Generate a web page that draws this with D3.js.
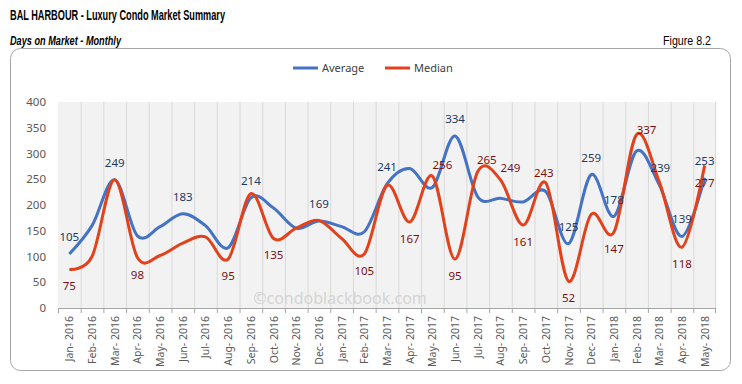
<!DOCTYPE html>
<html>
<head>
<meta charset="utf-8">
<script src="https://cdn.jsdelivr.net/npm/d3@7"></script>
<style>
  html, body { margin: 0; padding: 0; background: #fff; }
  svg { display: block; }
</style>
</head>
<body>
<svg id="chart" width="742" height="384"></svg>
<script>
(function () {
    const W = 742, H = 384;

    const months = [
        "Jan- 2016","Feb- 2016","Mar- 2016","Apr- 2016","May- 2016","Jun- 2016",
        "Jul- 2016","Aug- 2016","Sep- 2016","Oct- 2016","Nov- 2016","Dec- 2016",
        "Jan- 2017","Feb- 2017","Mar- 2017","Apr- 2017","May- 2017","Jun- 2017",
        "Jul- 2017","Aug- 2017","Sep- 2017","Oct- 2017","Nov- 2017","Dec- 2017",
        "Jan- 2018","Feb- 2018","Mar- 2018","Apr- 2018","May- 2018"
    ];
    const average = [105,160,249,140,158,183,160,117,214,194,155,169,
                     158,148,241,271,234,334,216,213,206,226,125,259,
                     178,305,239,139,253];
    const median  = [75,100,249,98,102,126,138,95,222,135,155,170,
                     135,105,238,167,256,95,265,249,161,243,52,182,
                     147,337,245,118,277];
    const yTicks = [0,50,100,150,200,250,300,350,400];

    // which points carry a value label, and where it sits ([index, dx, dy])
    const avgLabels = [[0,0,-13],[2,0,-13],[5,0,-13],[8,0,-13],[11,0,-13],[14,0,-13],
                       [17,0,-13],[22,0,-13],[23,0,-13],[24,0,-12],[26,1,-13],[27,0,-13],[28,0,-13]];
    const medLabels = [[0,0,21],[3,0,21],[7,0,21],[9,0,21],[13,0,21],[15,0,21],
                       [16,10,-7],[17,0,21],[18,9,-8],[19,10,-8],[20,0,21],[21,-2,-6],
                       [22,0,21],[24,0,21],[25,10,0],[27,0,21],[28,0,22]];

    const BLUE = "#4472C4", RED = "#E2421B";
    const FONT = "'Noto Sans', 'DejaVu Sans', sans-serif";
    const NARROW = "'Liberation Sans Narrow', 'Liberation Sans', 'DejaVu Sans Condensed', sans-serif";

    const svg = d3.select("#chart");
    svg.append("rect").attr("width", W).attr("height", H).attr("fill", "#fff");

    // headings (condensed to match the narrow face of the original)
    svg.append("text").attr("x", 10).attr("y", 20)
        .attr("font-family", NARROW).attr("font-weight", "bold").attr("font-size", 14)
        .attr("textLength", 215).attr("lengthAdjust", "spacingAndGlyphs")
        .text("BAL HARBOUR - Luxury Condo Market Summary");
    svg.append("text").attr("x", 10).attr("y", 45)
        .attr("font-family", NARROW).attr("font-weight", "bold").attr("font-style", "italic")
        .attr("font-size", 13.5).attr("textLength", 111).attr("lengthAdjust", "spacingAndGlyphs")
        .text("Days on Market - Monthly");
    svg.append("text").attr("x", 663).attr("y", 45)
        .attr("font-family", NARROW).attr("font-size", 13.5)
        .attr("textLength", 48).attr("lengthAdjust", "spacingAndGlyphs")
        .text("Figure 8.2");

    // chart frame
    svg.append("rect").attr("x", 10.5).attr("y", 48.5).attr("width", 720).attr("height", 322)
        .attr("rx", 10).attr("fill", "#fff").attr("stroke", "#a6a6a6");

    const x = d3.scaleBand().domain(months).range([58, 716]);
    const y = d3.scaleLinear().domain([0, 400]).range([308, 102]);
    const cx = d => x(d) + x.bandwidth() / 2;

    // plot area
    svg.append("rect").attr("x", 58).attr("y", 102).attr("width", 658).attr("height", 206)
        .attr("fill", "#f2f2f2");
    svg.append("g").selectAll("line")
        .data(months.slice(1).concat(["end"]))
        .join("line")
        .attr("x1", (d, i) => i < months.length - 1 ? x(d) + 0.5 : 715.5)
        .attr("x2", (d, i) => i < months.length - 1 ? x(d) + 0.5 : 715.5)
        .attr("y1", 102).attr("y2", 308)
        .attr("stroke", "#d9d9d9");

    // watermark
    svg.append("text").attr("x", 340).attr("y", 304).attr("text-anchor", "middle")
        .attr("font-family", FONT).attr("font-size", 16).attr("fill", "#d4d4d4")
        .text("©condoblackbook.com");

    // y axis labels
    svg.append("g").selectAll("text")
        .data(yTicks).join("text")
        .attr("x", 46).attr("y", d => y(d) + 4).attr("text-anchor", "end")
        .attr("font-family", FONT).attr("font-size", 11.5).attr("fill", "#595959")
        .text(d => d);

    // x axis
    const xAxis = svg.append("g").attr("transform", "translate(0,308)");
    xAxis.append("line").attr("x1", 58).attr("x2", 716).attr("y1", 0.5).attr("y2", 0.5)
        .attr("stroke", "#a6a6a6");
    xAxis.selectAll("line.tick")
        .data(months.concat(["end"])).join("line").attr("class", "tick")
        .attr("x1", (d, i) => i < months.length ? x(d) + 0.5 : 715.5)
        .attr("x2", (d, i) => i < months.length ? x(d) + 0.5 : 715.5)
        .attr("y1", 0).attr("y2", 5).attr("stroke", "#a6a6a6");
    xAxis.selectAll("text")
        .data(months).join("text")
        .attr("transform", d => `translate(${cx(d) + 4},8) rotate(-90)`)
        .attr("text-anchor", "end")
        .attr("font-family", FONT).attr("font-size", 10.5).attr("fill", "#595959")
        .text(d => d);

    // lines
    const line = d3.line()
        .x((d, i) => cx(months[i]))
        .y(d => y(d))
        .curve(d3.curveCatmullRom.alpha(0));
    svg.append("path").datum(average).attr("d", line)
        .attr("fill", "none").attr("stroke", BLUE).attr("stroke-width", 3);
    svg.append("path").datum(median).attr("d", line)
        .attr("fill", "none").attr("stroke", RED).attr("stroke-width", 3);

    // value labels
    function labels(spec, values, color) {
        svg.append("g").selectAll("text")
            .data(spec).join("text")
            .attr("x", d => cx(months[d[0]]) + d[1])
            .attr("y", d => y(values[d[0]]) + d[2])
            .attr("text-anchor", "middle")
            .attr("font-family", FONT).attr("font-size", 11.5).attr("fill", color)
            .text(d => values[d[0]]);
    }
    labels(avgLabels, average, "#1F3864");
    labels(medLabels, median, "#7B1010");

    // legend
    const lg = svg.append("g").attr("transform", "translate(293,68)");
    [["Average", BLUE, 0], ["Median", RED, 92]].forEach(([name, col, dx]) => {
        lg.append("line").attr("x1", dx).attr("x2", dx + 25).attr("y1", 0).attr("y2", 0)
            .attr("stroke", col).attr("stroke-width", 3);
        lg.append("text").attr("x", dx + 29).attr("y", 4)
            .attr("font-family", FONT).attr("font-size", 11).attr("fill", "#404040")
            .text(name);
    });
})();
</script>
</body>
</html>
